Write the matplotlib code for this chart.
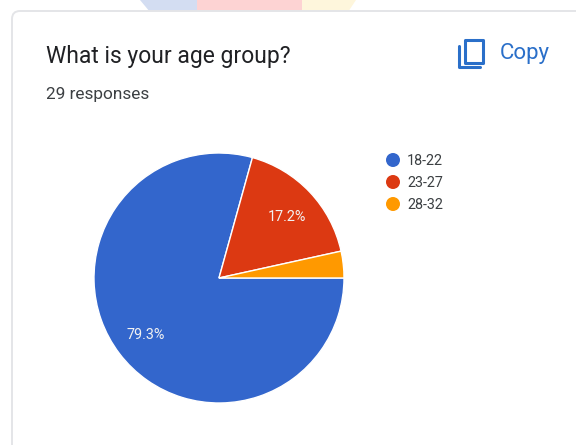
import matplotlib
matplotlib.use("Agg")
import matplotlib.pyplot as plt
from matplotlib.patches import FancyBboxPatch, Polygon, Rectangle, Circle

age_groups = ["18-22", "23-27", "28-32"]
responses = [23, 5, 1]
percent_labels = ["79.3%", "17.2%", ""]
slice_colors = ["#3366cc", "#dc3912", "#ff9900"]

title_text = "What is your age group?"
subtitle_text = "29 responses"
copy_text = "Copy"

W, H = 576, 445
plt.rcParams["font.family"] = ["Roboto", "DejaVu Sans"]
fig = plt.figure(figsize=(W / 100, H / 100), dpi=100, facecolor="white")

# Page layer in pixel coordinates, origin at the top left
page = fig.add_axes([0, 0, 1, 1])
page.set_xlim(0, W)
page.set_ylim(H, 0)
page.axis("off")

# Tinted banner shapes behind the card
page.add_patch(Polygon([(140, 0), (197, 0), (197, 12), (150, 12)], fc="#d3ddf2", ec="none"))
page.add_patch(Rectangle((197, 0), 105, 12, fc="#fdd3d3", ec="none"))
page.add_patch(Polygon([(302, 0), (356, 0), (348, 12), (302, 12)], fc="#fef6dc", ec="none"))

# Response card
page.add_patch(FancyBboxPatch((12, 11), 620, 470, boxstyle="round,pad=0,rounding_size=8",
                              fc="white", ec="#e4e5e8", lw=1.4))

page.text(46, 56.5, title_text, fontsize=16.5, color="#202124", va="center", ha="left")
page.text(46, 94.5, subtitle_text, fontsize=12.4, color="#3c4043", va="center", ha="left")

# Copy button: two overlapping page outlines and its label
icon = "#2a6fc9"
page.add_patch(Rectangle((464.5, 39.5), 18, 23, fc="none", ec=icon, lw=2.2, joinstyle="round"))
page.plot([459, 459, 480], [46, 67, 67], color=icon, lw=2.2, solid_capstyle="round",
          solid_joinstyle="round")
page.text(499.5, 54, copy_text, fontsize=16, color=icon, va="center", ha="left")

# Legend entries
legend_y = [160, 182, 204]
for label, color, y in zip(age_groups, slice_colors, legend_y):
    page.add_patch(Circle((393, y), 7, fc=color, ec="none"))
    page.text(407, y + 0.8, label, fontsize=10.4, color="#3c4043", va="center", ha="left")

# Pie centred at (219, 278) with a 125 px radius
cx, cy, r = 219, 278, 125
pie_ax = fig.add_axes([(cx - r) / W, 1 - (cy + r) / H, 2 * r / W, 2 * r / H])
pie_ax.set_facecolor("none")
pie_ax.pie(responses, colors=slice_colors, startangle=0, counterclock=False,
           radius=1.0, center=(0, 0),
           wedgeprops={"edgecolor": "white", "linewidth": 1.0})
pie_ax.set_xlim(-1, 1)
pie_ax.set_ylim(-1, 1)

# Percent labels drawn on a layer above the pie
top = fig.add_axes([0, 0, 1, 1], zorder=5)
top.set_xlim(0, W)
top.set_ylim(H, 0)
top.axis("off")
label_pos = [(146, 335), (287, 217), None]
for text, pos in zip(percent_labels, label_pos):
    if pos:
        top.text(pos[0], pos[1], text, fontsize=10.4, color="#f2f2f2", ha="center", va="center")

fig.savefig("out.png", dpi=100)
